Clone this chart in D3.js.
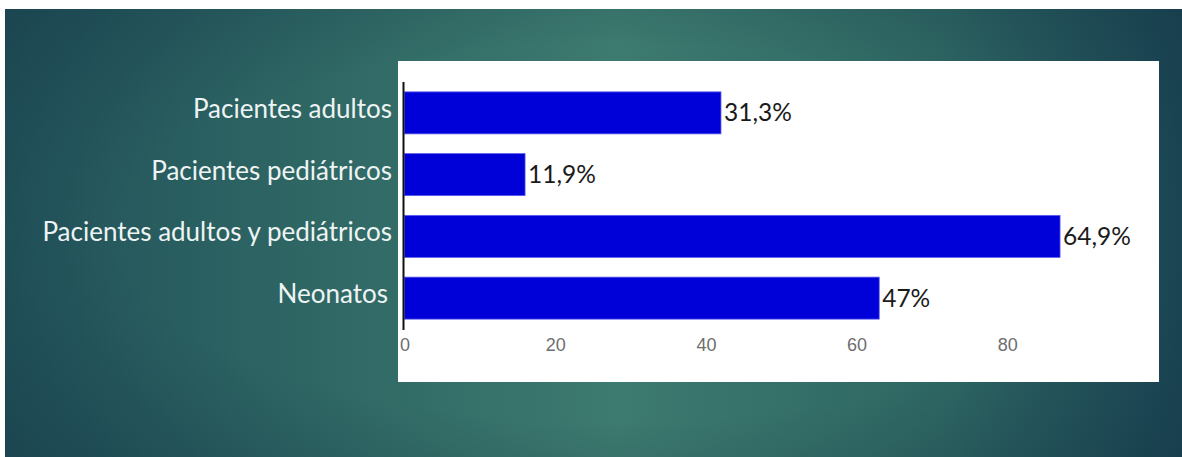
<!DOCTYPE html>
<html>
<head>
<meta charset="utf-8">
<script src="https://cdn.jsdelivr.net/npm/d3@7"></script>
<style>
  html, body { margin: 0; padding: 0; background: #fff; }
  svg { display: block; }
</style>
</head>
<body>
<svg id="chart" width="1182" height="457"></svg>
<script>
const categories = ["Pacientes adultos", "Pacientes pediátricos", "Pacientes adultos y pediátricos", "Neonatos"]
const values = [42, 16, 87, 63]
const valueLabels = ["31,3%", "11,9%", "64,9%", "47%"]
const ticks = [0, 20, 40, 60, 80]

const svg = d3.select("#chart")
const W = 1182, H = 457

// slide background: light in the middle, darker towards the sides
const defs = svg.append("defs")
const grad = defs.append("linearGradient")
    .attr("id", "bgGrad")
    .attr("x1", "0%").attr("x2", "100%").attr("y1", "0%").attr("y2", "0%")
grad.append("stop").attr("offset", "0%").attr("stop-color", "#22525a")
grad.append("stop").attr("offset", "25%").attr("stop-color", "#2e6664")
grad.append("stop").attr("offset", "52%").attr("stop-color", "#3d7a6f")
grad.append("stop").attr("offset", "80%").attr("stop-color", "#2e6663")
grad.append("stop").attr("offset", "100%").attr("stop-color", "#1c4655")

const shade = defs.append("radialGradient")
    .attr("id", "shade")
    .attr("cx", "52%").attr("cy", "50%").attr("r", "70%")
shade.append("stop").attr("offset", "60%").attr("stop-color", "#0f3040").attr("stop-opacity", 0)
shade.append("stop").attr("offset", "100%").attr("stop-color", "#0f3040").attr("stop-opacity", 0.35)

svg.append("rect")
    .attr("x", 5).attr("y", 9)
    .attr("width", W - 5).attr("height", H - 9)
    .attr("fill", "url(#bgGrad)")
svg.append("rect")
    .attr("x", 5).attr("y", 9)
    .attr("width", W - 5).attr("height", H - 9)
    .attr("fill", "url(#shade)")

// white chart panel
svg.append("rect")
    .attr("x", 398).attr("y", 61)
    .attr("width", 761).attr("height", 321)
    .attr("fill", "#fff")

const x = d3.scaleLinear().domain([0, 80]).range([404.5, 1007.3])

const y = d3.scaleBand()
    .domain(categories)
    .range([82, 329])
    .paddingInner(0.32)
    .paddingOuter(0.16)

const g = svg.append("g")

g.selectAll(".bar")
    .data(categories)
    .join("rect")
    .attr("class", "bar")
    .attr("x", x(0))
    .attr("y", d => y(d))
    .attr("width", (d, i) => x(values[i]) - x(0))
    .attr("height", y.bandwidth())
    .attr("fill", "#0000d8")
    .attr("stroke", "#5a5af0")
    .attr("stroke-width", 0.8)

g.selectAll(".val")
    .data(categories)
    .join("text")
    .attr("class", "val")
    .attr("x", (d, i) => x(values[i]) + 3)
    .attr("y", d => y(d) + y.bandwidth() / 2)
    .attr("dy", "0.35em")
    .attr("font-family", "Lato, 'Open Sans', sans-serif")
    .attr("font-size", 24.5)
    .attr("fill", "#1a1a1a")
    .text((d, i) => valueLabels[i])

// y axis line
g.append("line")
    .attr("x1", x(0) - 1).attr("x2", x(0) - 1)
    .attr("y1", 82).attr("y2", 330)
    .attr("stroke", "#111")
    .attr("stroke-width", 2)

// x axis tick labels
const xAxis = d3.axisBottom(x).tickValues(ticks).tickSize(0).tickPadding(0)
const ax = svg.append("g")
    .attr("transform", "translate(0,338)")
    .call(xAxis)
ax.select(".domain").remove()
ax.selectAll("text")
    .attr("font-family", "'Liberation Sans', Arial, sans-serif")
    .attr("font-size", 18)
    .attr("fill", "#6e6e6e")

// category labels
svg.selectAll(".cat")
    .data(categories)
    .join("text")
    .attr("class", "cat")
    .attr("x", d => d === "Neonatos" ? 388 : 392)
    .attr("y", d => y(d) + y.bandwidth() / 2 - 4)
    .attr("dy", "0.35em")
    .attr("text-anchor", "end")
    .attr("font-family", "Lato, 'Open Sans', sans-serif")
    .attr("font-size", 26)
    .attr("fill", "#eef4f3")
    .text(d => d)
</script>
</body>
</html>
